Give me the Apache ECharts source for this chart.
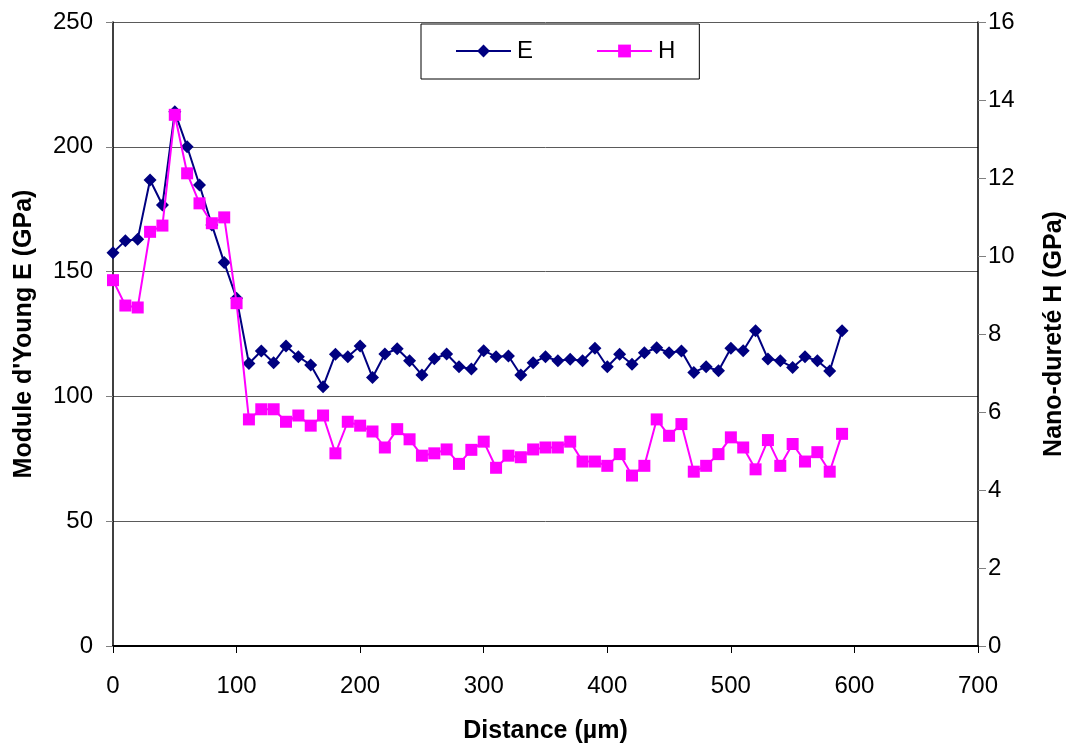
<!DOCTYPE html>
<html><head><meta charset="utf-8">
<script src="https://cdn.jsdelivr.net/npm/echarts@6/dist/echarts.min.js"></script>
<style>html,body{margin:0;padding:0;background:#fff}#c{width:1075px;height:749px}</style>
</head><body><div id="c"></div>
<script>
const distance = [0,10,20,30,40,50,60,70,80,90,100,110,120,130,140,150,160,170,180,190,200,210,220,230,240,250,260,270,280,290,300,310,320,330,340,350,360,370,380,390,400,410,420,430,440,450,460,470,480,490,500,510,520,530,540,550,560,570,580,590];
const E = [157.6,162.4,163.0,186.7,176.7,214.0,200.0,184.7,168.7,153.6,139.3,113.2,118.2,113.5,120.2,115.9,112.6,103.9,116.9,115.9,120.2,107.6,117.0,119.1,114.3,108.6,115.1,117.0,111.9,111.0,118.3,115.9,116.2,108.6,113.5,115.9,114.3,114.9,114.3,119.3,111.9,116.9,112.9,117.5,119.5,117.5,118.2,109.6,111.9,110.3,119.3,118.3,126.3,115.0,114.3,111.6,115.9,114.3,110.2,126.3];
const H = [9.38,8.73,8.68,10.62,10.78,13.62,12.12,11.35,10.84,10.99,8.79,5.81,6.07,6.07,5.75,5.91,5.65,5.91,4.94,5.75,5.65,5.50,5.09,5.56,5.30,4.88,4.94,5.04,4.67,5.03,5.24,4.57,4.88,4.84,5.04,5.09,5.09,5.24,4.73,4.73,4.62,4.92,4.37,4.62,5.81,5.39,5.69,4.47,4.62,4.92,5.35,5.09,4.53,5.28,4.62,5.18,4.73,4.97,4.47,5.44];
const xTicks = [0,100,200,300,400,500,600,700];

const font = 'Liberation Sans, Arial, sans-serif';
const chart = echarts.init(document.getElementById('c'));
chart.setOption({
  animation:false,
  backgroundColor:'#fff',
  grid:{left:113,right:97,top:22,bottom:103,containLabel:false},
  legend:{
    top:24,left:421,
    padding:[15,24,16,34],itemGap:63,
    borderColor:'#000',borderWidth:1,
    itemWidth:55,itemHeight:16,
    textStyle:{fontFamily:font,fontSize:24,color:'#000',padding:[0,0,0,1]},
    data:['E','H']
  },
  xAxis:{
    type:'value',min:0,max:700,interval:100,
    axisLine:{show:true,lineStyle:{color:'#000',width:2}},
    axisTick:{show:true,length:7,inside:false,lineStyle:{color:'#000'}},
    axisLabel:{fontFamily:font,fontSize:24,color:'#000',margin:28},
    splitLine:{show:false},
    name:'Distance (µm)',nameLocation:'middle',nameGap:73,
    nameTextStyle:{fontFamily:font,fontSize:25,fontWeight:'bold',color:'#000'}
  },
  yAxis:[{
    type:'value',min:0,max:250,interval:50,position:'left',
    axisLine:{show:true,lineStyle:{color:'#000',width:1.5}},
    axisTick:{show:true,length:7,lineStyle:{color:'#808080'}},
    axisLabel:{fontFamily:font,fontSize:24,color:'#000',margin:20},
    splitLine:{show:true,lineStyle:{color:'#5a5a5a',width:1}},
    name:"Module d'Young E (GPa)",nameLocation:'middle',nameGap:76,nameRotate:90,
    nameTextStyle:{fontFamily:font,fontSize:25,fontWeight:'bold',color:'#000'}
  },{
    type:'value',min:0,max:16,interval:2,position:'right',
    axisLine:{show:true,lineStyle:{color:'#000',width:1.5}},
    axisTick:{show:true,length:8,lineStyle:{color:'#808080'}},
    axisLabel:{fontFamily:font,fontSize:24,color:'#000',margin:10},
    splitLine:{show:false},
    name:'Nano-dureté H (GPa)',nameLocation:'middle',nameGap:64,nameRotate:90,
    nameTextStyle:{fontFamily:font,fontSize:25,fontWeight:'bold',color:'#000'}
  }],
  series:[{
    name:'E',type:'line',yAxisIndex:0,
    data:distance.map((d,i)=>[d,E[i]]),
    symbol:'diamond',symbolSize:13,
    lineStyle:{color:'#000080',width:2},
    itemStyle:{color:'#000080'},
    z:2
  },{
    name:'H',type:'line',yAxisIndex:1,
    data:distance.map((d,i)=>[d,H[i]]),
    symbol:'rect',symbolSize:12,
    lineStyle:{color:'#ff00ff',width:2},
    itemStyle:{color:'#ff00ff'},
    z:3
  }]
});
</script></body></html>
